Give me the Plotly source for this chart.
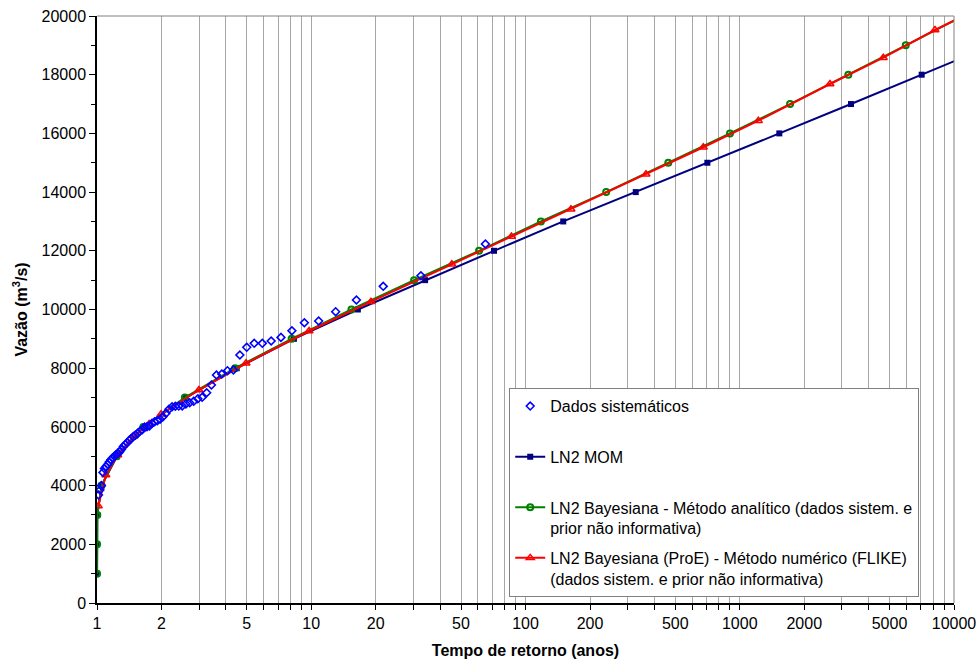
import plotly.graph_objects as go

# Dados sistemáticos (return period, flow)
t_dados = [65.0, 32.5, 21.67, 16.25, 13.0, 10.83, 9.286, 8.125, 7.222, 6.5, 5.909, 5.417, 5.0, 4.643,
           4.333, 4.063, 3.824, 3.611, 3.421, 3.25, 3.095, 2.955, 2.826, 2.708, 2.6, 2.5, 2.407, 2.321,
           2.241, 2.167, 2.097, 2.031, 1.97, 1.912, 1.857, 1.806, 1.757, 1.711, 1.667, 1.625, 1.585,
           1.548, 1.512, 1.477, 1.444, 1.413, 1.383, 1.354, 1.327, 1.3, 1.275, 1.25, 1.226, 1.204,
           1.182, 1.161, 1.14, 1.121, 1.102, 1.083, 1.066, 1.048, 1.032, 1.016]
q_dados = [12231, 11151, 10790, 10323, 9925, 9608, 9550, 9277, 9050, 8926, 8848, 8848, 8712, 8449,
           7938, 7915, 7802, 7768, 7427, 7165, 7008, 6960, 6872, 6824, 6780, 6715, 6710, 6705,
           6688, 6600, 6463, 6347, 6259, 6211, 6177, 6122, 6030, 6007, 5997, 5900, 5850,
           5780, 5720, 5670, 5600, 5540, 5460, 5400, 5330, 5230, 5150, 5100, 5050, 5000,
           4940, 4880, 4800, 4720, 4650, 4580, 4450, 4000, 3850, 3680]

# LN2 MOM
t_mom = [1.0005, 1.001, 1.003, 1.05, 1.24, 1.66, 2.6, 4.49, 8.3, 16.5, 34.0, 71.3, 150, 327, 706,
         1530, 3305, 7066, 15100]
q_mom = [1000, 2000, 3000, 4000, 5000, 6000, 7000, 8000, 9000, 10000, 11000, 12000, 13000, 14000,
         15000, 16000, 17000, 18000, 19000]

# LN2 Bayesiana - método analítico
t_bay = [1.0005, 1.001, 1.003, 1.05, 1.236, 1.645, 2.57, 4.41, 8.1, 15.4, 30.2, 60.7, 118, 238, 464,
         900, 1717, 3212, 5955, 11000]
q_bay = [1000, 2000, 3000, 4000, 5000, 6000, 7000, 8000, 9000, 10000, 11000, 12000, 13000, 14000,
         15000, 16000, 17000, 18000, 19000, 20000]

# LN2 Bayesiana (ProE) - FLIKE
t_flike = [1.014, 1.10, 1.25, 1.49, 1.75, 1.99, 2.99, 4.96, 9.77, 19.0, 45.3, 86, 163, 365, 676,
           1221, 2637, 4677, 8150, 14300]
q_flike = [3305, 4361, 5040, 5690, 6100, 6430, 7257, 8166, 9267, 10266, 11540, 12484, 13414, 14607,
           15528, 16435, 17683, 18580, 19523, 20400]

x_grid_vals = [1, 2, 3, 4, 5, 6, 7, 8, 9,
               10, 20, 30, 40, 50, 60, 70, 80, 90,
               100, 200, 300, 400, 500, 600, 700, 800, 900,
               1000, 2000, 3000, 4000, 5000, 6000, 7000, 8000, 9000, 10000]
x_tick_labels = ["1", "2", "", "", "5", "", "", "", "",
                 "10", "20", "", "", "50", "", "", "", "",
                 "100", "200", "", "", "500", "", "", "", "",
                 "1000", "2000", "", "", "5000", "", "", "", "", "10000"]
y_tick_vals = [0, 2000, 4000, 6000, 8000, 10000, 12000, 14000, 16000, 18000, 20000]
y_tick_labels = ["0", "2000", "4000", "6000", "8000", "10000", "12000", "14000", "16000",
                 "18000", "20000"]

FONT = "Liberation Sans, Arial, sans-serif"

fig = go.Figure()

fig.add_trace(go.Scatter(
    x=t_mom, y=q_mom, mode="lines+markers", name="LN2 MOM<br>&nbsp;",
    line=dict(color="#000080", width=2),
    marker=dict(symbol="square", size=6, color="#000080"),
    legendgroup="b", legendrank=2))

fig.add_trace(go.Scatter(
    x=t_bay, y=q_bay, mode="lines+markers",
    name="LN2 Bayesiana - Método analítico (dados sistem. e<br>prior não informativa)",
    line=dict(color="#008000", width=2),
    marker=dict(symbol="circle-open", size=6, color="#008000", line=dict(width=2)),
    legendgroup="c", legendrank=3))

fig.add_trace(go.Scatter(
    x=t_flike, y=q_flike, mode="lines+markers",
    name="LN2 Bayesiana (ProE) - Método numérico (FLIKE)<br>(dados sistem. e prior não informativa)",
    line=dict(color="#FF0000", width=2),
    marker=dict(symbol="triangle-up-open", size=7, color="#FF0000", line=dict(width=1.5)),
    legendgroup="d", legendrank=4))

fig.add_trace(go.Scatter(
    x=t_dados, y=q_dados, mode="markers", name="Dados sistemáticos<br>&nbsp;",
    marker=dict(symbol="diamond-open", size=6, color="#0000FF", line=dict(width=1.6)),
    legendgroup="a", legendrank=1))

fig.update_layout(
    width=979, height=662,
    margin=dict(l=97, r=25, t=16, b=59),
    paper_bgcolor="white", plot_bgcolor="white",
    font=dict(family=FONT, size=16, color="black"),
    showlegend=True,
    legend=dict(
        x=0.481, y=0.366, xanchor="left", yanchor="top",
        bgcolor="white", bordercolor="#808080", borderwidth=1,
        font=dict(family=FONT, size=16, color="black"),
        traceorder="grouped", tracegroupgap=6, valign="top",
    ),
    xaxis=dict(
        type="log", range=[0, 4], automargin=False,
        tickmode="array", tickvals=x_grid_vals, ticktext=x_tick_labels,
        showgrid=True, gridcolor="#A6A6A6", gridwidth=1,
        showline=True, linecolor="black", linewidth=1.5,
        ticks="outside", ticklen=5, tickcolor="black",
        tickfont=dict(family=FONT, size=16),
        title=dict(text="<b>Tempo de retorno (anos)</b>", font=dict(family=FONT, size=16), standoff=14),
        zeroline=False,
    ),
    yaxis=dict(
        range=[0, 20000], automargin=False,
        tickmode="array", tickvals=y_tick_vals, ticktext=y_tick_labels,
        showgrid=False,
        showline=True, linecolor="black", linewidth=1.5,
        ticks="outside", ticklen=6, tickcolor="black",
        minor=dict(dtick=1000, ticks="outside", ticklen=4, tickcolor="black", showgrid=False),
        tickfont=dict(family=FONT, size=16),
        title=dict(text="<b>Vazão (m<sup>3</sup>/s)</b>", font=dict(family=FONT, size=16), standoff=10),
        zeroline=False,
    ),
    shapes=[
        dict(type="line", xref="paper", yref="paper", x0=0, x1=1, y0=1, y1=1,
             line=dict(color="#808080", width=1)),
        dict(type="line", xref="paper", yref="paper", x0=1, x1=1, y0=0, y1=1,
             line=dict(color="#808080", width=1)),
    ],
)

fig.write_html("out.html")
